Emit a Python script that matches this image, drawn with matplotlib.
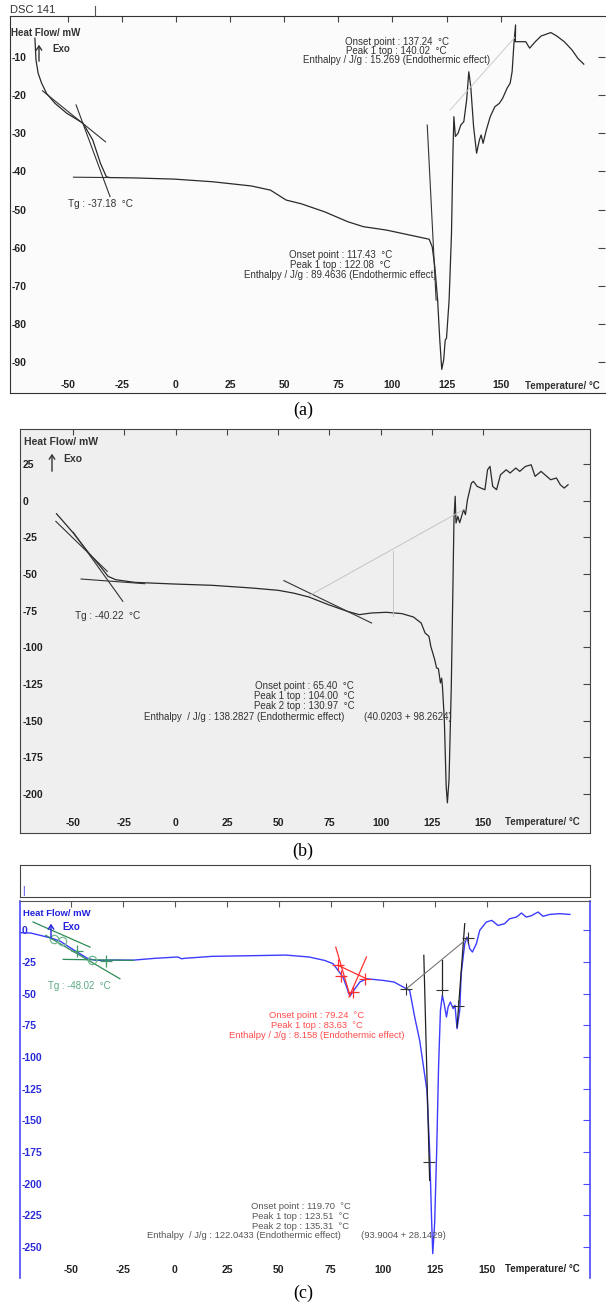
import matplotlib
matplotlib.use("Agg")
import matplotlib.pyplot as plt

plt.rcParams['font.family'] = ['Liberation Sans', 'DejaVu Sans']
NARROW = ['Liberation Sans Narrow', 'Liberation Sans', 'DejaVu Sans']

W, H = 606, 1304

# ---------------- panel (a) ----------------
a_curve = [(-65.1, -5.0), (-64.6, -10.7), (-63.6, -14.2), (-62.0, -16.8), (-59.7, -19.5),
           (-55.8, -22.1), (-50.4, -24.7), (-42.9, -27.3), (-38.4, -31.7), (-34.8, -37.9),
           (-32.1, -41.4), (-30.4, -41.6), (-18.7, -41.7), (-0.9, -42.0), (17.0, -42.7),
           (34.8, -43.8), (43.7, -44.9), (47.3, -46.2), (50.9, -47.5), (58.0, -48.5),
           (68.7, -50.6), (79.4, -53.2), (86.6, -54.5), (97.3, -55.4), (108.0, -56.7),
           (117.0, -57.8), (118.4, -59.8), (119.6, -65.0), (120.9, -73.8), (121.9, -84.3),
           (122.8, -92.0), (123.7, -89.5), (124.4, -84.3), (125.0, -83.8), (126.2, -73.8),
           (127.3, -56.3), (128.0, -34.4), (128.4, -25.6), (129.1, -30.8), (130.3, -30.0),
           (131.6, -27.8), (133.0, -26.9), (134.3, -21.2), (135.3, -13.8), (136.2, -17.7),
           (137.5, -28.2), (138.9, -35.2), (140.2, -31.7), (141.0, -30.4), (141.9, -32.6),
           (143.4, -29.1), (145.2, -25.6), (147.3, -23.0), (149.4, -22.1), (150.9, -20.8),
           (153.0, -18.1), (154.4, -16.8), (155.3, -13.8), (156.2, -5.9), (156.9, -1.5),
           (156.8, -5.9), (158.9, -5.9), (161.6, -5.9), (163.4, -7.6), (166.0, -5.9),
           (168.7, -4.4), (173.2, -3.5), (175.9, -4.4), (179.4, -5.9), (183.0, -8.1),
           (185.7, -10.3), (188.4, -11.8)]
a_tangent1 = [(-61.6, -18.8), (-32.5, -32.2)]
a_tangent2 = [(-46.1, -22.5), (-30.4, -46.6)]
a_baseline = [(-47.3, -41.5), (-30.4, -41.6)]
a_peak_line = [(116.1, -27.8), (120.2, -73.8)]
a_faint = [(126.6, -23.9), (156.5, -4.8)]
a_xticks = [-50, -25, 0, 25, 50, 75, 100, 125, 150]
a_yticks = [-10, -20, -30, -40, -50, -60, -70, -80, -90]

# ---------------- panel (b) ----------------
b_curve = [(-58.2, -8.9), (-55.6, -13.0), (-50.0, -22.0), (-42.4, -35.7), (-36.8, -44.8),
           (-33.0, -51.6), (-29.2, -53.9), (-19.8, -55.7), (-0.9, -56.8), (17.9, -57.7),
           (36.8, -59.5), (50.0, -61.1), (57.5, -63.0), (65.1, -65.7), (74.5, -70.9),
           (83.9, -75.5), (89.6, -77.7), (95.3, -76.6), (102.8, -76.1), (110.4, -77.0),
           (116.0, -79.3), (119.8, -83.4), (121.7, -90.2), (123.6, -92.5), (124.5, -99.3),
           (126.4, -108.4), (127.3, -114.0), (128.2, -114.5), (129.2, -124.3), (129.8, -121.0),
           (130.2, -127.0), (131.1, -149.3), (132.0, -194.8), (132.6, -206.0), (133.4, -190.0),
           (134.5, -126.6), (135.3, -58.4), (135.8, -13.0), (136.4, 3.0), (136.8, -15.2),
           (137.7, -10.7), (138.6, -15.0), (140.5, -6.1), (141.4, -9.5), (142.4, 0.7),
           (144.3, 12.0), (145.3, 13.2), (147.1, 9.8), (149.0, 8.6), (150.9, 7.5),
           (152.2, 21.1), (153.4, 23.4), (154.7, 9.8), (156.6, 7.5), (158.5, 17.7),
           (161.3, 21.1), (163.2, 18.9), (166.0, 22.3), (167.9, 20.0), (170.7, 23.4),
           (173.5, 24.5), (175.4, 16.6), (178.3, 20.0), (181.1, 16.6), (183.0, 14.3),
           (185.8, 15.5), (187.7, 10.9), (189.6, 8.6), (191.5, 10.9)]
b_tangent1 = [(-58.5, -14.1), (-33.4, -48.2)]
b_tangent2 = [(-50.0, -21.6), (-25.8, -68.6)]
b_baseline = [(-46.2, -53.4), (-15.1, -56.6)]
b_onset_line = [(52.8, -54.5), (95.6, -83.4)]
b_faint = [(65.1, -64.8), (140.5, -6.1)]
b_faint_drop = [(106.0, -34.5), (106.0, -78.9)]
b_xticks = [-50, -25, 0, 25, 50, 75, 100, 125, 150]
b_yticks = [25, 0, -25, -50, -75, -100, -125, -150, -175, -200]

# ---------------- panel (c) ----------------
c_curve = [(-74.3, -1.8), (-69.4, -2.1), (-60.2, -5.8), (-55.4, -8.4), (-48.9, -15.3),
           (-41.8, -22.4), (-37.8, -23.7), (-28.5, -23.4), (-20.1, -23.5), (-9.9, -22.1),
           (1.3, -21.0), (3.2, -22.4), (5.0, -22.0), (18.0, -20.5), (36.6, -20.0),
           (53.4, -19.5), (64.5, -21.0), (72.0, -23.7), (76.1, -26.3), (80.9, -36.8),
           (84.2, -52.1), (86.6, -46.1), (89.0, -40.8), (92.2, -38.2), (100.2, -39.5),
           (105.5, -40.8), (111.4, -46.1), (113.0, -47.4), (115.4, -68.4), (117.8, -86.8),
           (121.3, -126.3), (122.6, -173.7), (123.5, -226.3), (124.1, -255.3), (125.0, -231.6),
           (126.0, -173.7), (126.9, -107.9), (127.8, -63.2), (128.7, -51.3), (129.6, -58.0),
           (130.7, -68.4), (131.5, -60.5), (132.6, -56.6), (133.9, -61.8), (134.8, -59.2),
           (135.8, -77.6), (137.1, -63.2), (137.8, -34.2), (139.5, -10.5), (140.6, -5.3),
           (141.9, -14.5), (143.2, -17.1), (145.1, -10.5), (146.7, 0.0), (149.9, 6.6),
           (152.5, 7.9), (155.5, 3.9), (158.7, 5.3), (161.1, 9.2), (164.4, 10.5),
           (166.8, 13.7), (169.1, 10.5), (171.5, 11.5), (174.8, 14.5), (177.2, 11.1),
           (180.4, 12.6), (185.2, 13.2), (190.1, 12.6)]
c_green_lines = [[(-68.3, 6.6), (-40.9, -13.2)],
                 [(-62.2, -3.9), (-26.5, -38.2)],
                 [(-53.8, -22.9), (-20.1, -23.7)]]
c_green_circles = [(-58.0, -7.0), (-54.6, -8.4), (-40.1, -23.7)]
c_green_plus = [(-47.1, -16.3), (-33.3, -24.2)]
c_red_lines = [[(77.4, -13.2), (84.2, -51.3)],
               [(92.2, -21.0), (83.8, -52.6)],
               [(78.5, -27.6), (92.2, -38.2)]]
c_red_plus = [(78.5, -27.6), (80.1, -36.3), (91.4, -38.2), (85.8, -48.7)]
c_black_lines = [[(119.8, -19.7), (122.6, -197.4)],
                 [(128.7, -23.7), (128.7, -47.4)],
                 [(135.8, -76.3), (139.5, 5.3)]]
c_gray_baseline = [(111.4, -46.1), (140.6, -6.6)]
c_black_plus = [(111.4, -46.1), (122.2, -182.9), (128.7, -47.4), (136.4, -60.0), (141.2, -5.8)]
c_xticks = [-50, -25, 0, 25, 50, 75, 100, 125, 150]
c_yticks = [0, -25, -50, -75, -100, -125, -150, -175, -200, -225, -250]

fig = plt.figure(figsize=(W / 100, H / 100), dpi=100)


def panel(x0, y0, x1, y1, **kw):
    return fig.add_axes([x0 / W, 1 - y1 / H, (x1 - x0) / W, (y1 - y0) / H], **kw)


def ftext(px, py, s, **kw):
    return fig.text(px / W, 1 - py / H, s, **kw)


def farrow(px, py0, py1, color):
    fig.add_artist(matplotlib.patches.FancyArrowPatch(
        (px / W, 1 - py0 / H), (px / W, 1 - py1 / H), transform=fig.transFigure,
        arrowstyle='->,head_length=3,head_width=2', color=color, lw=1.0))


def seg(ax, pts, **kw):
    xs, ys = zip(*pts)
    ax.plot(xs, ys, **kw)


def setup(ax, xlim, ylim, xt, yt, xpad, ypad, xcol='#222222', ycol='#222222', tickcol='#444444'):
    ax.set_xlim(*xlim)
    ax.set_ylim(*ylim)
    ax.set_xticks(xt, [str(v) for v in xt], fontsize=7.5, fontweight='bold',
                  family=NARROW, color=xcol)
    ax.set_yticks(yt, [str(v) for v in yt], fontsize=7.5, fontweight='bold',
                  family=NARROW, color=ycol, ha='left')
    ax.tick_params(axis='x', top=True, bottom=False, direction='in', length=4,
                   pad=xpad, labelbottom=True, color=tickcol)
    ax.tick_params(axis='y', left=False, right=True, direction='in', length=5,
                   pad=ypad, labelleft=True, color=tickcol)


ANN = 7.0
ANN_C = 6.75

# ---- (a) ----
ax = panel(10, 16, 605, 393, facecolor='#fbfbfb')
setup(ax, (-76.6, 198.2), (-98.2, 0.85), a_xticks, a_yticks, -9.5, -1)
for s in ['left', 'top', 'bottom']:
    ax.spines[s].set_color('#333333')
ax.spines['right'].set_visible(False)
seg(ax, a_curve, color='#2a2a2a', lw=0.9)
for pts in [a_tangent1, a_tangent2, a_baseline, a_peak_line]:
    seg(ax, pts, color='#333333', lw=0.8)
seg(ax, a_faint, color='#cccccc', lw=0.7)
ax.text(-50, -48.5, 'Tg : -37.18  °C', fontsize=7.2, color='#333333', va='center')
for i, s in enumerate(['Onset point : 137.24  °C', 'Peak 1 top : 140.02  °C',
                       'Enthalpy / J/g : 15.269 (Endothermic effect)']):
    ax.text(102.0, -5.9 - 2.4 * i, s, fontsize=ANN, color='#333333', ha='center', va='center')
for i, s in enumerate(['Onset point : 117.43  °C', 'Peak 1 top : 122.08  °C',
                       'Enthalpy / J/g : 89.4636 (Endothermic effect)']):
    ax.text(75.9, -62.0 - 2.6 * i, s, fontsize=ANN, color='#333333', ha='center', va='center')
ftext(11, 33, 'Heat Flow/ mW', fontsize=7, fontweight='bold', color='#333333', va='center')
ftext(52, 49, 'Exo', fontsize=7, fontweight='bold', color='#333333', va='center')
farrow(39, 64, 42, '#333333')
ftext(600, 386, 'Temperature/ °C', fontsize=7, fontweight='bold', color='#333333',
      ha='right', va='center')
ftext(10, 10, 'DSC 141', fontsize=8, color='#333333', va='center')
fig.add_artist(plt.Line2D([95 / W, 95 / W], [1 - 6 / H, 1 - 16 / H], color='#555555', lw=0.8))
ftext(303, 410, '(a)', fontsize=13, family='Liberation Serif', ha='center', va='center')

# ---- (b) ----
ax = panel(20, 429, 590, 833, facecolor='#efefef')
setup(ax, (-76.0, 202.2), (-226.6, 48.9), b_xticks, b_yticks, -11, -2)
for s in ax.spines.values():
    s.set_color('#444444')
seg(ax, b_curve, color='#2a2a2a', lw=0.9)
for pts in [b_tangent1, b_tangent2, b_baseline, b_onset_line]:
    seg(ax, pts, color='#333333', lw=0.8)
seg(ax, b_faint, color='#c4c4c4', lw=0.7)
seg(ax, b_faint_drop, color='#c4c4c4', lw=0.7)
ax.text(-49, -78.4, 'Tg : -40.22  °C', fontsize=7.2, color='#333333', va='center')
for i, s in enumerate(['Onset point : 65.40  °C', 'Peak 1 top : 104.00  °C',
                       'Peak 2 top : 130.97  °C']):
    ax.text(62.8, -126.6 - 6.8 * i, s, fontsize=ANN, color='#333333', ha='center', va='center')
ax.text(33.6, -147.5, 'Enthalpy  / J/g : 138.2827 (Endothermic effect)', fontsize=ANN,
        color='#333333', ha='center', va='center')
ax.text(113.2, -147.5, '(40.0203 + 98.2624)', fontsize=ANN, color='#333333',
        ha='center', va='center')
ftext(24, 442, 'Heat Flow/ mW', fontsize=7.5, fontweight='bold', color='#333333', va='center')
ftext(63, 459, 'Exo', fontsize=7.5, fontweight='bold', color='#333333', va='center')
farrow(52, 474, 451, '#333333')
ftext(580, 822, 'Temperature/ °C', fontsize=7, fontweight='bold', color='#333333',
      ha='right', va='center')
ftext(303, 851, '(b)', fontsize=13, family='Liberation Serif', ha='center', va='center')

# ---- (c) ----
box = panel(20, 865, 590, 897)
box.set_xticks([])
box.set_yticks([])
for s in box.spines.values():
    s.set_color('#444444')
ftext(22, 891, '|', fontsize=7, color='#2222dd', va='center')

ax = panel(20, 901, 590, 1278)
setup(ax, (-74.6, 199.8), (-274.5, 23.2), c_xticks, c_yticks, -9.5, -1,
      xcol='#222222', ycol='#2b2bd8', tickcol='#4a4aff')
ax.tick_params(axis='x', color='#555555')
ax.spines['left'].set_color('#4a4aff')
ax.spines['right'].set_color('#4a4aff')
ax.spines['left'].set_linewidth(1.2)
ax.spines['right'].set_linewidth(1.2)
ax.spines['top'].set_color('#555555')
ax.spines['bottom'].set_visible(False)
seg(ax, c_curve, color='#3c3cff', lw=1.0)
for pts in c_green_lines:
    seg(ax, pts, color='#2e8b57', lw=0.9)
cx, cy = zip(*c_green_circles)
ax.plot(cx, cy, 'o', mfc='none', mec='#6fb88e', ms=6, mew=0.9)
gx, gy = zip(*c_green_plus)
ax.plot(gx, gy, '+', color='#3f9a68', ms=9, mew=0.9)
for pts in c_red_lines:
    seg(ax, pts, color='#ff3030', lw=0.9)
rx, ry = zip(*c_red_plus)
ax.plot(rx, ry, '+', color='#ff3030', ms=9, mew=0.9)
for pts in c_black_lines:
    seg(ax, pts, color='#222222', lw=0.9)
seg(ax, c_gray_baseline, color='#777777', lw=0.8)
kx, ky = zip(*c_black_plus)
ax.plot(kx, ky, '+', color='#333333', ms=9, mew=0.8)
ax.text(-61, -44.2, 'Tg : -48.02  °C', fontsize=6.9, color='#5aa882', va='center')
for i, s in enumerate(['Onset point : 79.24  °C', 'Peak 1 top : 83.63  °C',
                       'Enthalpy / J/g : 8.158 (Endothermic effect)']):
    ax.text(68.3, -67.6 - 7.6 * i, s, fontsize=ANN_C, color='#ff4a4a', ha='center', va='center')
for i, s in enumerate(['Onset point : 119.70  °C', 'Peak 1 top : 123.51  °C',
                       'Peak 2 top : 135.31  °C']):
    ax.text(60.5, -218.4 - 7.6 * i, s, fontsize=ANN_C, color='#555555', ha='center', va='center')
ax.text(33.3, -241.0, 'Enthalpy  / J/g : 122.0433 (Endothermic effect)', fontsize=ANN_C,
        color='#555555', ha='center', va='center')
ax.text(110.1, -241.0, '(93.9004 + 28.1429)', fontsize=ANN_C, color='#555555',
        ha='center', va='center')
ftext(23, 913, 'Heat Flow/ mW', fontsize=6.8, fontweight='bold', color='#2222dd', va='center')
ftext(62, 927, 'Exo', fontsize=7, fontweight='bold', color='#2222dd', va='center')
farrow(51, 941, 921, '#2222dd')
ftext(580, 1269, 'Temperature/ °C', fontsize=7, fontweight='bold', color='#222222',
      ha='right', va='center')
ftext(303, 1293, '(c)', fontsize=13, family='Liberation Serif', ha='center', va='center')

fig.savefig('out.png', dpi=100)
